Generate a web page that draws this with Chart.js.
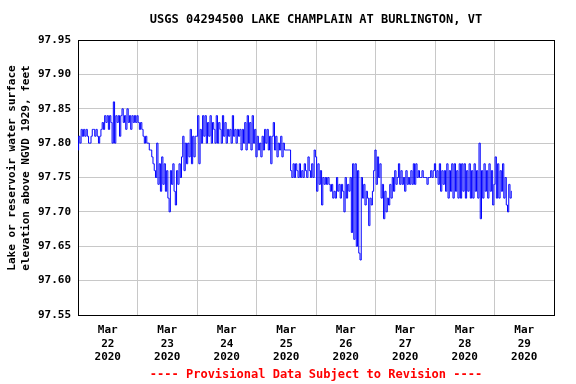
<!DOCTYPE html>
<html>
<head>
<meta charset="utf-8">
<script src="https://cdn.jsdelivr.net/npm/chart.js@4.4.1/dist/chart.umd.min.js"></script>
<style>
  html, body { margin: 0; padding: 0; background: #fff; }
</style>
</head>
<body>
<canvas id="lakeChart" width="576" height="384"></canvas>
<script>
// gage height readings, feet, every 30 minutes starting at midnight of each day
const mar22 = [97.79, 97.81, 97.80, 97.82, 97.81, 97.82, 97.81, 97.82, 97.81, 97.80, 97.80, 97.81,
               97.82, 97.82, 97.81, 97.82, 97.81, 97.80, 97.81, 97.82, 97.83, 97.82, 97.84, 97.83,
               97.84, 97.82, 97.84, 97.83, 97.80, 97.86, 97.80, 97.84, 97.83, 97.84, 97.81, 97.84,
               97.85, 97.83, 97.84, 97.82, 97.85, 97.83, 97.84, 97.82, 97.84, 97.83, 97.84, 97.83];
const mar23 = [97.84, 97.83, 97.82, 97.83, 97.82, 97.81, 97.80, 97.81, 97.80, 97.80, 97.79, 97.79,
               97.78, 97.77, 97.76, 97.75, 97.80, 97.74, 97.77, 97.73, 97.78, 97.74, 97.77, 97.73,
               97.76, 97.72, 97.70, 97.76, 97.74, 97.77, 97.73, 97.71, 97.76, 97.74, 97.77, 97.75,
               97.78, 97.81, 97.76, 97.80, 97.77, 97.80, 97.78, 97.82, 97.77, 97.81, 97.78, 97.81];
const mar24 = [97.81, 97.84, 97.77, 97.82, 97.80, 97.84, 97.81, 97.84, 97.80, 97.83, 97.81, 97.84,
               97.80, 97.83, 97.82, 97.80, 97.84, 97.80, 97.83, 97.82, 97.80, 97.84, 97.81, 97.83,
               97.80, 97.82, 97.81, 97.82, 97.80, 97.84, 97.81, 97.82, 97.80, 97.82, 97.81, 97.82,
               97.79, 97.82, 97.80, 97.83, 97.79, 97.84, 97.80, 97.83, 97.79, 97.84, 97.80, 97.82];
const mar25 = [97.78, 97.81, 97.79, 97.80, 97.78, 97.81, 97.79, 97.82, 97.80, 97.82, 97.79, 97.81,
               97.77, 97.81, 97.83, 97.79, 97.81, 97.78, 97.80, 97.79, 97.81, 97.78, 97.80, 97.79,
               97.79, 97.79, 97.79, 97.79, 97.76, 97.75, 97.77, 97.75, 97.77, 97.76, 97.75, 97.77,
               97.75, 97.76, 97.75, 97.77, 97.76, 97.75, 97.78, 97.76, 97.75, 97.77, 97.75, 97.79];
const mar26 = [97.78, 97.73, 97.77, 97.74, 97.76, 97.71, 97.75, 97.74, 97.75, 97.74, 97.75, 97.74,
               97.73, 97.74, 97.72, 97.73, 97.72, 97.75, 97.73, 97.74, 97.72, 97.74, 97.73, 97.70,
               97.75, 97.72, 97.74, 97.73, 97.75, 97.67, 97.77, 97.66, 97.77, 97.65, 97.76, 97.64,
               97.63, 97.75, 97.72, 97.74, 97.71, 97.73, 97.72, 97.68, 97.72, 97.71, 97.73, 97.76];
const mar27 = [97.79, 97.74, 97.78, 97.75, 97.77, 97.72, 97.74, 97.69, 97.73, 97.70, 97.72, 97.71,
               97.74, 97.72, 97.75, 97.73, 97.76, 97.74, 97.75, 97.77, 97.74, 97.76, 97.74, 97.75,
               97.73, 97.76, 97.74, 97.75, 97.74, 97.76, 97.74, 97.77, 97.74, 97.77, 97.75, 97.76,
               97.75, 97.75, 97.76, 97.75, 97.75, 97.75, 97.74, 97.75, 97.75, 97.76, 97.75, 97.76];
const mar28 = [97.77, 97.75, 97.76, 97.74, 97.77, 97.73, 97.76, 97.74, 97.76, 97.73, 97.77, 97.72,
               97.76, 97.73, 97.77, 97.72, 97.77, 97.73, 97.76, 97.72, 97.77, 97.72, 97.77, 97.73,
               97.77, 97.72, 97.76, 97.73, 97.77, 97.72, 97.76, 97.72, 97.77, 97.73, 97.76, 97.72,
               97.80, 97.69, 97.76, 97.72, 97.77, 97.73, 97.76, 97.72, 97.77, 97.73, 97.76, 97.71];
const mar29 = [97.74, 97.78, 97.72, 97.77, 97.72, 97.76, 97.73, 97.77, 97.72, 97.75, 97.71, 97.70,
               97.74, 97.72, 97.73];

const days = [mar22, mar23, mar24, mar25, mar26, mar27, mar28, mar29];
const stepMinutes = 30;

// x axis: day 0 = Mar 22 00:00, labels sit at noon of each day
const tickLabels = [
    ['Mar', '22', '2020'], ['Mar', '23', '2020'], ['Mar', '24', '2020'], ['Mar', '25', '2020'],
    ['Mar', '26', '2020'], ['Mar', '27', '2020'], ['Mar', '28', '2020'], ['Mar', '29', '2020']
];
const yTicks = [97.55, 97.60, 97.65, 97.70, 97.75, 97.80, 97.85, 97.90, 97.95];

const chartTitle = 'USGS 04294500 LAKE CHAMPLAIN AT BURLINGTON, VT';
const yTitle = ['Lake or reservoir water surface', 'elevation above NGVD 1929, feet'];
const footNote = '---- Provisional Data Subject to Revision ----';

const points = [];
days.forEach((vals, d) => {
    vals.forEach((v, i) => {
        points.push({ x: d + i * stepMinutes / 1440, y: v });
    });
});

const FONT = '"DejaVu Sans Mono", monospace';
const gridColor = '#c8c8c8';

const textPlugin = {
    id: 'usgsText',
    afterDraw(chart) {
        const ctx = chart.ctx;
        const area = chart.chartArea;
        const cx = (area.left + area.right) / 2;
        ctx.save();
        ctx.textAlign = 'center';
        ctx.textBaseline = 'middle';

        ctx.font = 'bold 12px ' + FONT;
        ctx.fillStyle = '#000';
        ctx.fillText(chartTitle, cx, 20);

        ctx.fillStyle = '#ff0000';
        ctx.fillText(footNote, cx, 375);

        ctx.fillStyle = '#000';
        ctx.font = 'bold 11px ' + FONT;
        ctx.translate(12, 168);
        ctx.rotate(-Math.PI / 2);
        ctx.fillText(yTitle[0], 0, 0);
        ctx.fillText(yTitle[1], 0, 14);
        ctx.restore();
    }
};

const ctx = document.getElementById('lakeChart').getContext('2d');
new Chart(ctx, {
    type: 'line',
    data: {
        datasets: [{
            data: points,
            borderColor: '#0000ff',
            borderWidth: 1,
            pointRadius: 0,
            stepped: 'middle',
            fill: false
        }]
    },
    options: {
        responsive: false,
        animation: false,
        layout: { padding: { top: 40, right: 22, bottom: 0, left: 0 } },
        plugins: {
            legend: { display: false },
            tooltip: { enabled: false },
            title: { display: false }
        },
        scales: {
            x: {
                type: 'linear',
                position: 'bottom',
                min: 0,
                max: 8,
                afterBuildTicks: axis => {
                    axis.ticks = tickLabels.map((t, i) => ({ value: i + 0.5 }));
                },
                afterFit: axis => { axis.height = 69; },
                grid: { display: false, drawTicks: false },
                border: { display: true, color: '#000', width: 1 },
                ticks: {
                    autoSkip: false,
                    maxRotation: 0,
                    padding: 9,
                    color: '#000',
                    font: { family: FONT, size: 11, weight: 'bold', lineHeight: 1.2 },
                    callback: (value, index) => tickLabels[index]
                }
            },
            xGrid: {
                type: 'linear',
                position: 'top',
                min: 0,
                max: 8,
                afterBuildTicks: axis => {
                    axis.ticks = [1, 2, 3, 4, 5, 6, 7].map(v => ({ value: v }));
                },
                afterFit: axis => { axis.height = 0; },
                grid: { color: gridColor, drawTicks: false },
                border: { display: true, color: '#000', width: 1 },
                ticks: { display: false }
            },
            y: {
                min: 97.55,
                max: 97.95,
                afterBuildTicks: axis => {
                    axis.ticks = yTicks.map(v => ({ value: v }));
                },
                afterFit: axis => { axis.width = 78; },
                grid: { color: gridColor, drawTicks: false },
                border: { display: true, color: '#000', width: 1 },
                ticks: {
                    padding: 7,
                    color: '#000',
                    font: { family: FONT, size: 11, weight: 'bold' },
                    callback: value => value.toFixed(2)
                }
            },
            yRight: {
                position: 'right',
                min: 97.55,
                max: 97.95,
                afterFit: axis => { axis.width = 0; },
                grid: { display: false, drawTicks: false },
                border: { display: true, color: '#000', width: 1 },
                ticks: { display: false }
            }
        }
    },
    plugins: [textPlugin]
});
</script>
</body>
</html>
